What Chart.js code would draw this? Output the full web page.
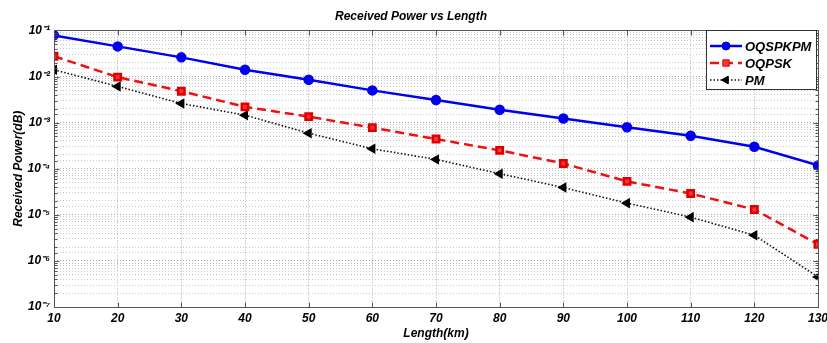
<!DOCTYPE html>
<html><head><meta charset="utf-8">
<script src="https://cdn.jsdelivr.net/npm/chart.js@4/dist/chart.umd.min.js"></script>
<style>html,body{margin:0;padding:0;background:#fff}#wrap{width:827px;height:343px}</style>
</head><body><div id="wrap"><canvas id="c" width="827" height="343"></canvas></div>
<script>
const lengths = [10,20,30,40,50,60,70,80,90,100,110,120,130];
const oqspkpm = [0.078,0.045,0.026,0.014,0.0085,0.005,0.0031,0.0019,0.00123,0.00079,0.00052,0.0003,0.000118];
const oqpsk = [0.0275,0.0097,0.0048,0.0022,0.00135,0.00078,0.00044,0.00025,0.00013,0.000053,0.000029,0.000013,0.0000023];
const pm = [0.014,0.0061,0.0026,0.00145,0.00059,0.00027,0.000159,0.000078,0.000039,0.0000179,0.0000089,0.0000036,0.00000045];
const seriesNames = ['OQSPKPM','OQPSK','PM'];
const xTicks = lengths;
const yMin = 1e-7, yMax = 1e-1;

const FONT = '"Liberation Sans", Arial, sans-serif';
const sup = {'-':'\u207B','0':'\u2070','1':'\u00B9','2':'\u00B2','3':'\u00B3','4':'\u2074','5':'\u2075','6':'\u2076','7':'\u2077','8':'\u2078','9':'\u2079'};
function isPow10(v){const e=Math.log10(v);return Math.abs(e-Math.round(e))<1e-6;}
function pow10Label(v){const e=Math.round(Math.log10(v));return '10'+String(e).split('').map(c=>sup[c]).join('');}
function pts(arr){return lengths.map((x,i)=>({x:x,y:arr[i]}));}

const frame = {
  id:'frame',
  afterDraw(chart){
    const a=chart.chartArea, ctx=chart.ctx;
    const L=Math.round(a.left)+0.5,T=Math.round(a.top)+0.5,R=Math.round(a.right)+0.5,B=Math.round(a.bottom)+0.5;
    ctx.save();
    ctx.strokeStyle='#555'; ctx.lineWidth=1;
    ctx.strokeRect(L,T,R-L,B-T);
    // inward tick marks
    ctx.beginPath();
    chart.scales.y.ticks.forEach(t=>{
      const y=Math.round(chart.scales.y.getPixelForValue(t.value))+0.5;
      const len=isPow10(t.value)?5:3;
      ctx.moveTo(L,y);ctx.lineTo(L+len,y);ctx.moveTo(R,y);ctx.lineTo(R-len,y);
    });
    chart.scales.x.ticks.forEach(t=>{
      const x=Math.round(chart.scales.x.getPixelForValue(t.value))+0.5;
      ctx.moveTo(x,B);ctx.lineTo(x,B-5);ctx.moveTo(x,T);ctx.lineTo(x,T+5);
    });
    ctx.stroke();
    // legend box
    const bx=706,by=30,bw=110,bh=59;
    ctx.fillStyle='#fff'; ctx.fillRect(bx,by,bw,bh);
    ctx.strokeStyle='#333'; ctx.strokeRect(bx+0.5,by+0.5,bw,bh);
    chart.data.datasets.forEach((ds,i)=>{
      const y=by+16+i*17;
      ctx.save();
      ctx.strokeStyle=ds.borderColor; ctx.lineWidth=ds.borderWidth;
      ctx.setLineDash(ds.borderDash||[]);
      ctx.beginPath(); ctx.moveTo(710,y); ctx.lineTo(742,y); ctx.stroke();
      ctx.restore();
      ctx.save();
      ctx.fillStyle=ds.pointBackgroundColor; ctx.strokeStyle=ds.pointBorderColor; ctx.lineWidth=1;
      Chart.helpers.drawPoint(ctx,{pointStyle:ds.pointStyle,radius:ds.pointRadius,rotation:ds.pointRotation||0,borderWidth:1},726,y);
      ctx.restore();
      ctx.fillStyle='#000'; ctx.font='italic bold 13px '+FONT; ctx.textBaseline='middle'; ctx.textAlign='left';
      ctx.fillText(ds.label,745,y+1);
    });
    ctx.restore();
  }
};

new Chart(document.getElementById('c'),{
  type:'line',
  data:{datasets:[
    {label:seriesNames[0],data:pts(oqspkpm),borderColor:'#0000ee',backgroundColor:'#0000ee',borderWidth:2.5,
     pointStyle:'circle',pointRadius:4,pointBackgroundColor:'#0000ee',pointBorderColor:'#0000ee'},
    {label:seriesNames[1],data:pts(oqpsk),borderColor:'#ee1111',backgroundColor:'#ee1111',borderWidth:2.5,borderDash:[9,5],
     pointStyle:'rect',pointRadius:4.5,pointBackgroundColor:'#ff3333',pointBorderColor:'#dd0000'},
    {label:seriesNames[2],data:pts(pm),borderColor:'#111',backgroundColor:'#000',borderWidth:1.6,borderDash:[1.5,2],
     pointStyle:'triangle',pointRotation:-90,pointRadius:4.5,pointBackgroundColor:'#000',pointBorderColor:'#000'}
  ]},
  options:{
    responsive:false,animation:false,devicePixelRatio:1,
    layout:{padding:{left:4,right:9,top:0,bottom:0}},
    plugins:{
      legend:{display:false},tooltip:{enabled:false},
      title:{display:true,text:'Received Power vs Length',color:'#000',font:{family:FONT,size:12,weight:'bold',style:'italic'},padding:{top:9,bottom:7}}
    },
    scales:{
      x:{type:'linear',min:10,max:130,
        afterBuildTicks(s){s.ticks=xTicks.map(v=>({value:v}));},
        afterFit(s){s.height=36;s.paddingLeft=0;s.paddingRight=0;},
        grid:{color:'#b0b0b0',drawTicks:false,lineWidth:1},
        border:{display:false,dash:[1,2]},
        ticks:{color:'#000',padding:4,autoSkip:false,maxRotation:0,font:{family:FONT,size:12,weight:'bold',style:'italic'}},
        title:{display:true,text:'Length(km)',color:'#000',padding:{top:0,bottom:2},font:{family:FONT,size:12,weight:'bold',style:'italic'}}
      },
      y:{type:'logarithmic',min:yMin,max:yMax,
        afterFit(s){s.width=50;s.paddingTop=0;s.paddingBottom=0;},
        grid:{color:c=>isPow10(c.tick.value)?'#a8a8a8':'#c8c8c8',drawTicks:false,lineWidth:1},
        border:{display:false,dash:[1,2]},
        ticks:{color:'#000',padding:4,autoSkip:false,font:{family:FONT,size:12,weight:'bold',style:'italic'},
          callback:v=>isPow10(v)?pow10Label(v):''},
        title:{display:true,text:'Received Power(dB)',color:'#000',padding:{top:7,bottom:0},font:{family:FONT,size:12,weight:'bold',style:'italic'}}
      }
    }
  },
  plugins:[frame]
});
</script></body></html>
